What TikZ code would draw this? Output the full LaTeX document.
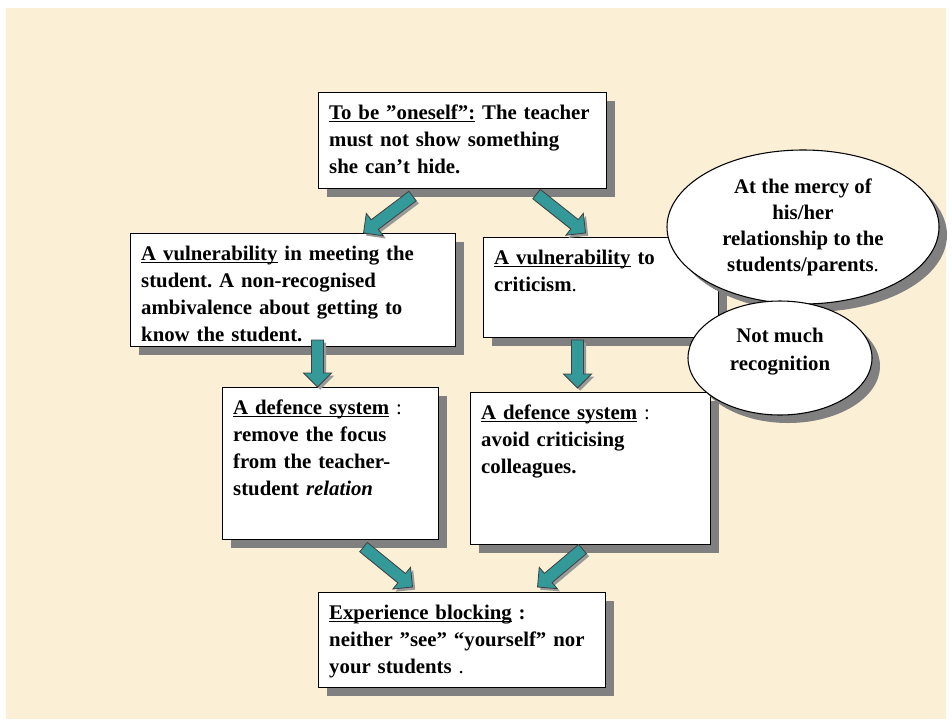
\documentclass[tikz,border=0pt]{standalone}
\usepackage{fontspec}
\setmainfont{Liberation Serif}
\usetikzlibrary{calc,shapes.geometric,shadows}

\definecolor{parchment}{RGB}{251,239,214}
\definecolor{arrowteal}{RGB}{51,153,153}

% underline close to the baseline
\newcommand{\uln}[1]{\underline{\smash{#1}}}

% fat teal arrow from #1 to #2
\newcommand{\blockarrow}[2]{%
  \coordinate (bn) at ($(#2)!10.5pt!(#1)$);
  \filldraw[fatarrow] ($(#1)!4.5pt!90:(#2)$) -- ($(bn)!4.5pt!90:(#2)$)
    -- ($(bn)!10.5pt!90:(#2)$) -- (#2) -- ($(bn)!10.5pt!-90:(#2)$)
    -- ($(bn)!4.5pt!-90:(#2)$) -- ($(#1)!4.5pt!-90:(#2)$) -- cycle;}

\begin{document}
\begin{tikzpicture}[x=0.75pt, y=-0.75pt,
  card/.style={draw, fill=white, line width=0.8pt, anchor=north west,
    inner sep=8pt, text height=12pt, align=left,
    font=\fontsize{15.6}{20.3}\selectfont\bfseries\frenchspacing,
    drop shadow={shadow xshift=6pt, shadow yshift=-6pt, fill=black!50, opacity=1}},
  bubble/.style={ellipse, draw, fill=white, line width=0.8pt, inner sep=0pt,
    align=center, font=\fontsize{15.6}{19.5}\selectfont\bfseries\frenchspacing,
    drop shadow={shadow xshift=6pt, shadow yshift=-6pt, fill=black!50, opacity=1}},
  fatarrow/.style={fill=arrowteal, draw=black!75, line width=0.6pt, line join=miter,
    drop shadow={shadow xshift=2pt, shadow yshift=-2pt, fill=black!40, opacity=1}}]

  \fill[white] (0,0) rectangle (952,725);
  \fill[parchment] (6,8) rectangle (946,719);
  \useasboundingbox (0,0) rectangle (952,725);

  % boxes
  \node[card, text width=200pt, text depth=44pt] (self) at (318,92)
    {\uln{To be ”oneself”:} The teacher\\must not show something\\she can’t hide.};
  \node[card, text width=227.75pt, text depth=56.75pt] (vulnl) at (130,233)
    {\uln{A vulnerability} in meeting the\\student. A non-recognised\\ambivalence about getting to\\know the student.};
  \node[card, text width=160.25pt, text depth=47pt] (vulnr) at (483,237)
    {\uln{A vulnerability} to\\criticism\textmd{.}};
  \node[card, text width=146pt, text depth=86pt] (defl) at (222,387)
    {\uln{A defence system} \textmd{:}\\remove the focus\\from the teacher-\\student \textit{relation}};
  \node[card, text width=164pt, text depth=86pt] (defr) at (470,392)
    {\uln{A defence system} \textmd{:}\\avoid criticising\\colleagues.};
  \node[card, text width=199.25pt, text depth=43.25pt] (block) at (318,592)
    {\uln{Experience blocking} :\\neither ”see” “yourself” nor\\your students \textmd{.}};

  % bubbles
  \node[bubble, minimum width=204pt, minimum height=115.5pt] (mercy) at (803,227)
    {At the mercy of\\his/her\\relationship to the\\students/parents\textmd{.}};
  \node[bubble, minimum width=138pt, minimum height=85.5pt, text depth=13pt] (recog) at (780,358)
    {Not much\\[1pt]recognition};

  % arrows
  \coordinate (s1) at ($(self.south)+(-50,7)$);
  \coordinate (t1) at ($(vulnl.north)+(70.5,0)$);
  \coordinate (s2) at ($(self.south)+(74,5)$);
  \coordinate (t2) at ($(vulnr.north)+(-15.5,-4)$);
  \coordinate (s3) at ($(vulnl.south)+(24.5,-7)$);
  \coordinate (t3) at ($(defl.north)+(-13,0)$);
  \coordinate (s4) at ($(vulnr.south)+(-23.5,2)$);
  \coordinate (t4) at ($(defr.north)+(-13,-4)$);
  \coordinate (s5) at ($(defl.south)+(33,7)$);
  \coordinate (t5) at ($(block.north)+(-49.5,-5)$);
  \coordinate (s6) at ($(defr.south)+(-8,4)$);
  \coordinate (t6) at ($(block.north)+(75.5,-5)$);
  \blockarrow{s1}{t1}
  \blockarrow{s2}{t2}
  \blockarrow{s3}{t3}
  \blockarrow{s4}{t4}
  \blockarrow{s5}{t5}
  \blockarrow{s6}{t6}
\end{tikzpicture}
\end{document}
